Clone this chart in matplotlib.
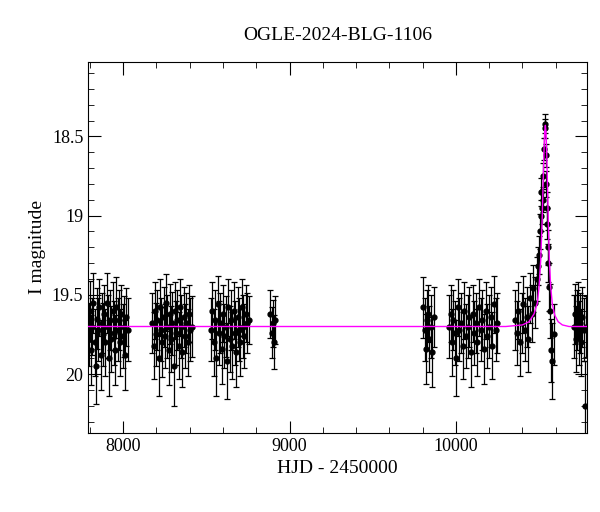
import matplotlib
matplotlib.use("Agg")
import matplotlib.pyplot as plt
from matplotlib.ticker import MultipleLocator

plt.rcParams["font.family"] = "Liberation Serif"

# OGLE photometry (HJD-2450000, I mag, error)
hjd = [7795, 7802, 7808, 7815, 7821, 7828, 7835, 7842, 7850, 7857, 7864, 7870, 7878, 7885, 7892, 7900, 7907, 7915, 7922, 7930,
       7938, 7945, 7952, 7960, 7968, 7975, 7983, 7990, 7998, 8005, 8012, 8020, 8027,
       8175, 8183, 8190, 8198, 8205, 8213, 8220, 8228, 8236, 8243, 8250, 8258, 8266, 8273, 8280, 8288, 8296, 8303, 8310,
       8318, 8326, 8333, 8341, 8349, 8356, 8364, 8372, 8380, 8388, 8396, 8404, 8412,
       8528, 8536, 8544, 8552, 8560, 8568, 8576, 8584, 8592, 8600, 8608, 8616, 8624, 8632, 8640, 8648, 8656, 8664, 8672,
       8680, 8688, 8696, 8704, 8712, 8720, 8728, 8736, 8745, 8755,
       8885, 8893, 8900, 8908, 8915,
       9805, 9812, 9818, 9825, 9832, 9840, 9848, 9858, 9866,
       9960, 9968, 9976, 9984, 9992, 10000, 10010, 10020, 10030, 10040, 10050, 10060, 10070, 10080, 10090, 10100,
       10110, 10120, 10130, 10140, 10150, 10160, 10170, 10180, 10190, 10200, 10210, 10220, 10230, 10240, 10248,
       10355, 10365, 10375, 10385, 10395, 10405, 10415, 10425, 10435, 10445, 10455, 10465, 10475, 10485, 10492,
       10500, 10505, 10510, 10514, 10518, 10522, 10526, 10530, 10534, 10537, 10540, 10543, 10546, 10549, 10552,
       10556, 10560, 10565, 10572, 10580, 10590,
       10712, 10718, 10724, 10730, 10736, 10742, 10748, 10754, 10760, 10768, 10776, 10784]
mag = [19.75, 19.60, 19.85, 19.70, 19.55, 19.80, 19.95, 19.65, 19.72, 19.58, 19.88, 19.68, 19.75, 19.62, 19.80, 19.55, 19.70, 19.90, 19.66, 19.78,
       19.60, 19.74, 19.85, 19.58, 19.72, 19.66, 19.80, 19.62, 19.76, 19.70, 19.88, 19.64, 19.72,
       19.68, 19.82, 19.60, 19.75, 19.66, 19.90, 19.58, 19.72, 19.80, 19.64, 19.76, 19.55, 19.70, 19.85, 19.62, 19.78, 19.68, 19.95, 19.60,
       19.74, 19.66, 19.82, 19.58, 19.70, 19.86, 19.64, 19.76, 19.68, 19.80, 19.62, 19.72, 19.70,
       19.72, 19.60, 19.80, 19.66, 19.90, 19.56, 19.74, 19.68, 19.84, 19.62, 19.76, 19.70, 19.92, 19.58, 19.78, 19.66, 19.82, 19.60, 19.74,
       19.86, 19.64, 19.72, 19.80, 19.58, 19.70, 19.76, 19.62, 19.68, 19.66,
       19.62, 19.74, 19.68, 19.80, 19.66,
       19.58, 19.72, 19.84, 19.66, 19.62, 19.78, 19.70, 19.86, 19.64,
       19.70, 19.62, 19.80, 19.66, 19.74, 19.90, 19.58, 19.72, 19.68, 19.82, 19.60, 19.76, 19.70, 19.64, 19.86, 19.62,
       19.74, 19.68, 19.80, 19.58, 19.72, 19.66, 19.84, 19.60, 19.76, 19.70, 19.64, 19.82, 19.56, 19.72, 19.68,
       19.66, 19.74, 19.60, 19.80, 19.68, 19.56, 19.72, 19.64, 19.78, 19.52, 19.62, 19.46, 19.55, 19.40, 19.32,
       19.25, 19.10, 19.00, 18.85, 18.95, 18.75, 18.90, 18.58, 18.45, 18.42, 18.62, 18.80, 19.05, 18.95, 19.20,
       19.30, 19.45, 19.60, 19.85, 19.92, 19.75,
       19.70, 19.62, 19.78, 19.66, 19.60, 19.74, 19.68, 19.80, 19.64, 19.72, 20.20, 19.70]
err = [0.20, 0.19, 0.22, 0.18, 0.19, 0.21, 0.24, 0.19, 0.20, 0.18, 0.22, 0.19, 0.20, 0.18, 0.21, 0.19, 0.20, 0.24, 0.19, 0.21,
       0.18, 0.20, 0.22, 0.19, 0.20, 0.19, 0.21, 0.18, 0.20, 0.19, 0.22, 0.18, 0.20,
       0.19, 0.21, 0.18, 0.20, 0.19, 0.24, 0.18, 0.20, 0.22, 0.19, 0.20, 0.18, 0.20, 0.22, 0.19, 0.21, 0.20, 0.25, 0.18,
       0.20, 0.19, 0.21, 0.18, 0.20, 0.22, 0.19, 0.20, 0.19, 0.21, 0.18, 0.20, 0.19,
       0.20, 0.18, 0.21, 0.19, 0.24, 0.18, 0.20, 0.19, 0.22, 0.18, 0.20, 0.19, 0.24, 0.18, 0.21, 0.19, 0.21, 0.18, 0.20,
       0.22, 0.19, 0.20, 0.21, 0.18, 0.20, 0.20, 0.18, 0.19, 0.15,
       0.15, 0.16, 0.15, 0.17, 0.15,
       0.19, 0.20, 0.22, 0.19, 0.18, 0.21, 0.20, 0.22, 0.19,
       0.20, 0.18, 0.21, 0.19, 0.20, 0.24, 0.18, 0.20, 0.19, 0.21, 0.18, 0.20, 0.20, 0.19, 0.22, 0.18,
       0.20, 0.19, 0.21, 0.18, 0.20, 0.19, 0.22, 0.18, 0.20, 0.20, 0.19, 0.21, 0.18, 0.20, 0.19,
       0.19, 0.20, 0.18, 0.21, 0.19, 0.18, 0.20, 0.19, 0.21, 0.16, 0.18, 0.15, 0.16, 0.14, 0.12,
       0.12, 0.11, 0.10, 0.09, 0.10, 0.08, 0.08, 0.07, 0.06, 0.06, 0.07, 0.08, 0.10, 0.10, 0.11,
       0.12, 0.15, 0.17, 0.20, 0.24, 0.19,
       0.20, 0.19, 0.21, 0.19, 0.18, 0.20, 0.19, 0.21, 0.19, 0.20, 0.28, 0.19]

# model light curve samples
model_t = [7790, 10300, 10400, 10440, 10470, 10490, 10500, 10510, 10518, 10525, 10530, 10534, 10538, 10542, 10546,
           10551, 10556, 10562, 10570, 10580, 10595, 10615, 10640, 10680, 10787]
model_m = [19.70, 19.70, 19.69, 19.67, 19.62, 19.55, 19.45, 19.28, 19.05, 18.78, 18.58, 18.47, 18.43, 18.48, 18.60,
           18.82, 19.05, 19.28, 19.45, 19.56, 19.63, 19.67, 19.69, 19.70, 19.70]

fig, ax = plt.subplots(figsize=(6.0, 5.12), dpi=100)
fig.subplots_adjust(left=0.147, right=0.978, top=0.879, bottom=0.155)

ax.errorbar(hjd, mag, yerr=err, fmt="o", color="black", ms=3.5, elinewidth=0.9, capsize=2.5, capthick=0.9, zorder=2)
ax.plot(model_t, model_m, color="magenta", lw=1.0, zorder=3)

ax.set_xlim(7790, 10787)
ax.set_ylim(20.37, 18.03)
ax.xaxis.set_major_locator(MultipleLocator(1000))
ax.xaxis.set_minor_locator(MultipleLocator(200))
ax.yaxis.set_minor_locator(MultipleLocator(0.1))
ax.set_yticks([18.5, 19, 19.5, 20])
ax.set_yticklabels(["18.5", "19", "19.5", "20"])
ax.tick_params(which="both", direction="in", top=True, right=True, labelsize=13)
ax.tick_params(which="major", length=9)
ax.tick_params(which="minor", length=4.5)

ax.set_title("OGLE-2024-BLG-1106", fontsize=14, pad=16)
ax.set_xlabel("HJD - 2450000", fontsize=14)
ax.set_ylabel("I magnitude", fontsize=14)

plt.savefig("out.png", dpi=100)
